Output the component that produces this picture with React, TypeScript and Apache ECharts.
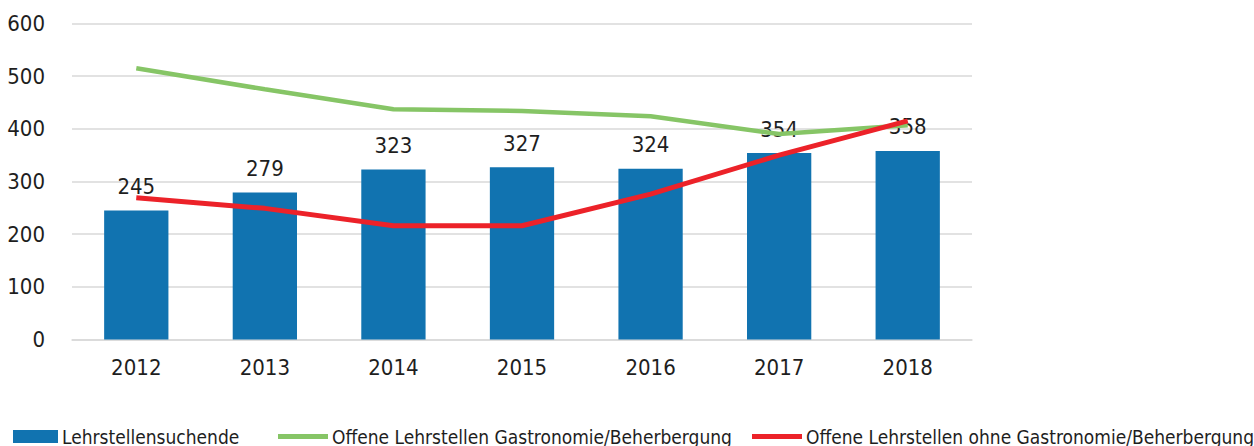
import React, { useEffect, useRef } from "react";
import * as echarts from "echarts";

const years = ["2012", "2013", "2014", "2015", "2016", "2017", "2018"];
const lehrstellensuchende = [245, 279, 323, 327, 324, 354, 358];
const offeneGastro = [515, 475, 437, 434, 424, 390, 407];
const offeneOhneGastro = [269, 249, 216, 216, 276, 350, 415];
const yTicks = [0, 100, 200, 300, 400, 500, 600];

const FONT = "'Liberation Sans Narrow', 'DejaVu Sans Condensed', sans-serif";
const TEXT = "#1e1e1e";
const BLUE = "#1173B0";
const GREEN = "#86C566";
const RED = "#EC2229";
const LINE_ICON = "path://M0,0H50V5H0Z";

export default function App() {
  const ref = useRef<HTMLDivElement>(null);
  useEffect(() => {
    if (!ref.current) return;
    const chart = echarts.init(ref.current, null, { renderer: "svg" });
    const legendBase = {
      top: 427,
      padding: 0,
      itemHeight: 13,
      itemGap: 0,
      textStyle: { fontFamily: FONT, fontSize: 19, color: TEXT, lineHeight: 18, padding: [0, 0, 0, -1] },
      selectedMode: false,
    };
    chart.setOption({
      animation: false,
      grid: { left: 72, right: 282, top: 23.5, bottom: 106.5 },
      legend: [
        { ...legendBase, left: 13, itemWidth: 45, data: [{ name: "Lehrstellensuchende", icon: "rect" }] },
        { ...legendBase, left: 278, itemWidth: 50, data: [{ name: "Offene Lehrstellen Gastronomie/Beherbergung", icon: LINE_ICON, itemStyle: { color: GREEN } }] },
        { ...legendBase, left: 752, itemWidth: 50, data: [{ name: "Offene Lehrstellen ohne Gastronomie/Beherbergung", icon: LINE_ICON, itemStyle: { color: RED } }] },
      ],
      xAxis: {
        type: "category",
        data: years,
        axisTick: { show: false },
        axisLine: { show: true, lineStyle: { color: "#d9d9d9", width: 1.5 } },
        axisLabel: { fontFamily: FONT, fontSize: 22, color: TEXT, margin: 17 },
      },
      yAxis: {
        type: "value",
        min: yTicks[0],
        max: yTicks[yTicks.length - 1],
        interval: 100,
        axisLine: { show: false },
        axisTick: { show: false },
        splitLine: { lineStyle: { color: "#d9d9d9", width: 1.5 } },
        axisLabel: { fontFamily: FONT, fontSize: 22, color: TEXT, margin: 27 },
      },
      series: [
        {
          name: "Lehrstellensuchende",
          type: "bar",
          data: lehrstellensuchende,
          barWidth: "50%",
          itemStyle: { color: BLUE },
          z: 2,
          label: {
            show: true,
            position: "top",
            distance: 13,
            fontFamily: FONT,
            fontSize: 22,
            color: TEXT,
          },
        },
        {
          name: "Offene Lehrstellen Gastronomie/Beherbergung",
          type: "line",
          data: offeneGastro,
          symbol: "none",
          itemStyle: { color: GREEN },
          lineStyle: { color: GREEN, width: 4.5 },
          z: 3,
        },
        {
          name: "Offene Lehrstellen ohne Gastronomie/Beherbergung",
          type: "line",
          data: offeneOhneGastro,
          symbol: "none",
          itemStyle: { color: RED },
          lineStyle: { color: RED, width: 5 },
          z: 4,
        },
      ],
    });
    return () => chart.dispose();
  }, []);
  return <div ref={ref} style={{ width: 1254, height: 446, position: "absolute", left: 0, top: 0 }} />;
}
